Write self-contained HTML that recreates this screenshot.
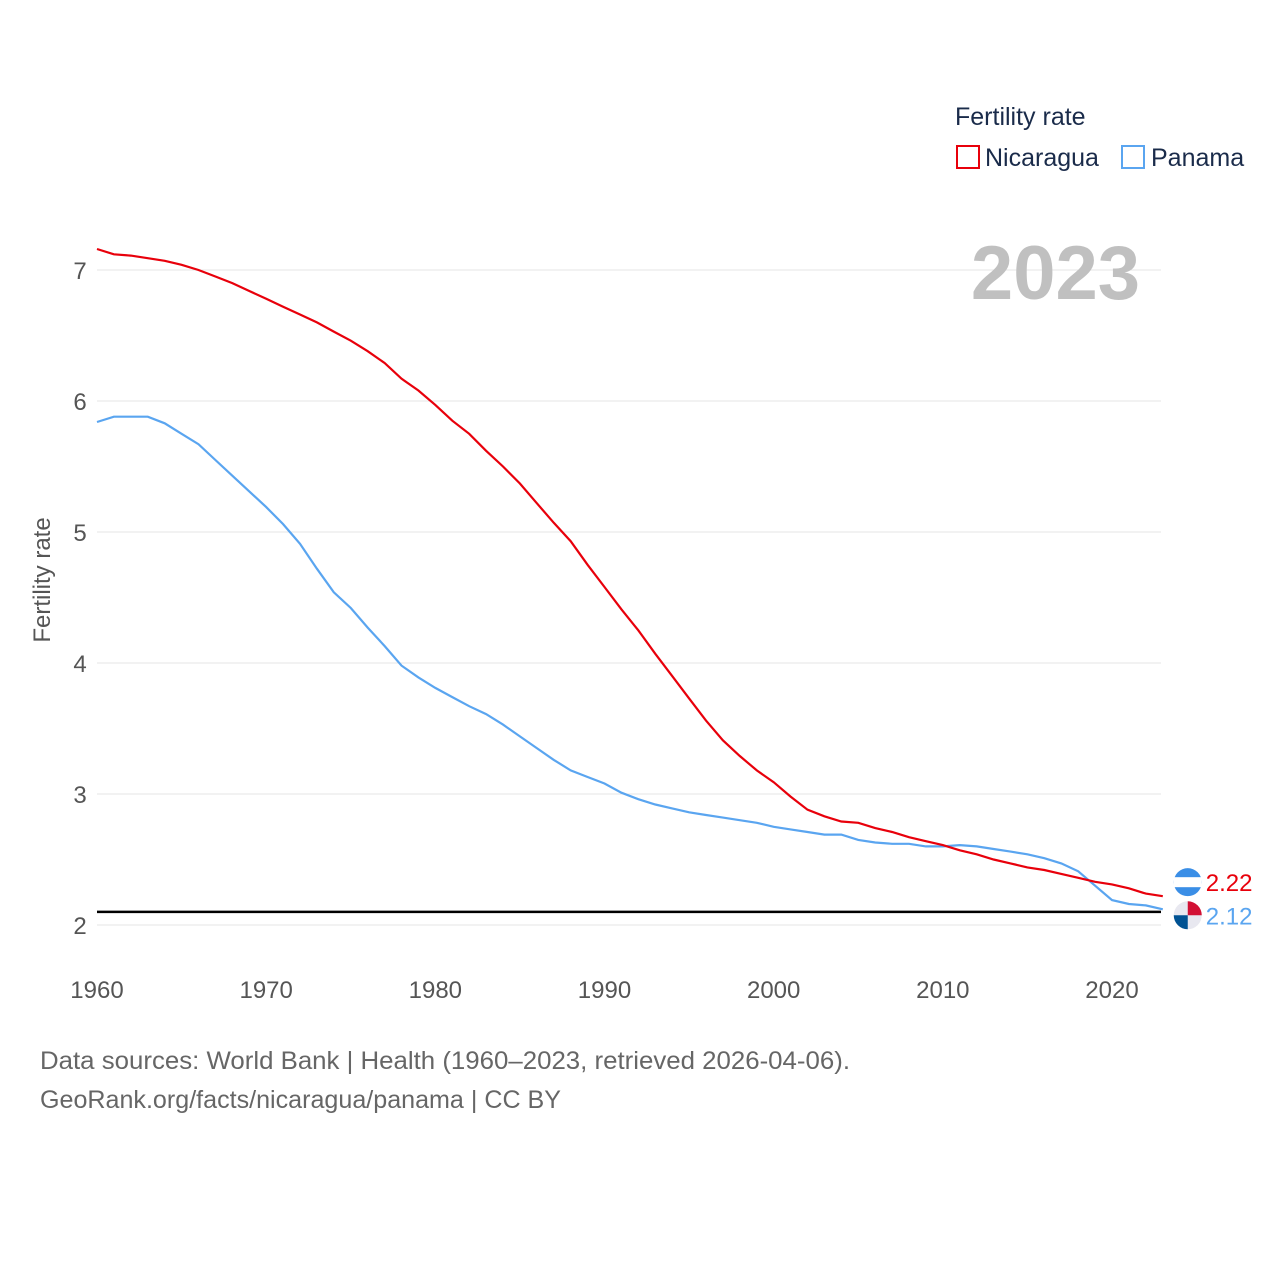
<!DOCTYPE html>
<html><head><meta charset="utf-8"><style>
body{margin:0;background:#fff;font-family:"Liberation Sans",sans-serif}
svg text{font-family:"Liberation Sans",sans-serif}
</style></head><body>
<svg id="chart" width="1280" height="1280" xmlns="http://www.w3.org/2000/svg">
<g id="grid"></g>
<g id="lines"></g>
<text x="1140" y="299" text-anchor="end" font-size="76" font-weight="bold" fill="#c0c0c0">2023</text>
<text x="955" y="125" font-size="25" fill="#1a2b4a">Fertility rate</text>
<g><rect x="957" y="146" width="22" height="22" fill="none" stroke="#e8000b" stroke-width="2"/><text x="985" y="166" font-size="25" fill="#1a2b4a">Nicaragua</text></g>
<g><rect x="1122" y="146" width="22" height="22" fill="none" stroke="#5aa5f0" stroke-width="2"/><text x="1151" y="166" font-size="25" fill="#1a2b4a">Panama</text></g>
<text transform="translate(50,580) rotate(-90)" text-anchor="middle" font-size="24" fill="#555">Fertility rate</text>
<text x="40" y="1069" font-size="25" fill="#666" textLength="810" lengthAdjust="spacingAndGlyphs">Data sources: World Bank | Health (1960–2023, retrieved 2026-04-06).</text>
<text x="40" y="1108" font-size="25" fill="#666" textLength="521" lengthAdjust="spacingAndGlyphs">GeoRank.org/facts/nicaragua/panama | CC BY</text>
</svg>
<script>
const years=[];for(let y=1960;y<=2023;y++)years.push(y);
const nicaragua=[7.16,7.12,7.11,7.09,7.07,7.04,7.00,6.95,6.90,6.84,6.78,6.72,6.66,6.60,6.53,6.46,6.38,6.29,6.17,6.08,5.97,5.85,5.75,5.62,5.50,5.37,5.22,5.07,4.93,4.75,4.58,4.41,4.25,4.07,3.90,3.73,3.56,3.41,3.29,3.18,3.09,2.98,2.88,2.83,2.79,2.78,2.74,2.71,2.67,2.64,2.61,2.57,2.54,2.50,2.47,2.44,2.42,2.39,2.36,2.33,2.31,2.28,2.24,2.22];
const panama=[5.84,5.88,5.88,5.88,5.83,5.75,5.67,5.55,5.43,5.31,5.19,5.06,4.91,4.72,4.54,4.42,4.27,4.13,3.98,3.89,3.81,3.74,3.67,3.61,3.53,3.44,3.35,3.26,3.18,3.13,3.08,3.01,2.96,2.92,2.89,2.86,2.84,2.82,2.80,2.78,2.75,2.73,2.71,2.69,2.69,2.65,2.63,2.62,2.62,2.60,2.60,2.61,2.60,2.58,2.56,2.54,2.51,2.47,2.41,2.30,2.19,2.16,2.15,2.12];
const yTicks=[2,3,4,5,6,7];
const xTicks=[1960,1970,1980,1990,2000,2010,2020];
const replacement=[2.1];
const NS="http://www.w3.org/2000/svg";
const xs=y=>97+(y-1960)*(1112-97)/60;
const ys=v=>925-(v-2)*131;
const grid=document.getElementById('grid'),lines=document.getElementById('lines');
function mk(t,a,p){const e=document.createElementNS(NS,t);for(const k in a)e.setAttribute(k,a[k]);p.appendChild(e);return e;}
yTicks.forEach(v=>{
 const l=mk('line',{x1:97,x2:1161,y1:ys(v),y2:ys(v),stroke:'#e6e6e6','stroke-width':1},grid);
 
 
 const t=mk('text',{x:80,y:ys(v)+9,'text-anchor':'middle','font-size':24,fill:'#555'},grid);t.textContent=v;
 
 
});
xTicks.forEach(v=>{
 const t=mk('text',{x:xs(v),y:998,'text-anchor':'middle','font-size':24,fill:'#555'},grid);t.textContent=v;
 
 
});
replacement.forEach(v=>{
 const l=mk('line',{x1:97,x2:1161,y1:ys(v),y2:ys(v),stroke:'#000','stroke-width':2.5},grid);
 
 
});
function series(d,c,name){
 const p=mk('path',{d:d.map((v,i)=>(i?'L':'M')+xs(years[i]).toFixed(1)+','+ys(v).toFixed(1)).join(''),fill:'none',stroke:c,'stroke-width':2.2},lines);
 
 
}
series(panama,'#5aa5f0','panama');
series(nicaragua,'#e8000b','nicaragua');
const lx=xs(2023);
[[nicaragua,'#e8000b','nicaragua',-11],[panama,'#5aa5f0','panama',9]].forEach(([d,c,n,off])=>{
 const v=d[d.length-1];const fy=ys(v)+off-3;
 const g=mk('g',{},lines);
 
 
 mk('circle',{cx:lx+25,cy:fy,r:14,fill:n==='nicaragua'?'#3a8ee6':'#e8e8f0'},g);
 if(n==='nicaragua')mk('rect',{x:lx+11,y:fy-5,width:28,height:10,fill:'#fff'},g);
 else{mk('path',{d:`M${lx+25},${fy-14}A14,14 0 0 1 ${lx+39},${fy}L${lx+25},${fy}Z`,fill:'#d21034'},g);mk('path',{d:`M${lx+25},${fy+14}A14,14 0 0 1 ${lx+11},${fy}L${lx+25},${fy}Z`,fill:'#005293'},g);}
 const t=mk('text',{x:lx+43,y:fy+9,'font-size':24,fill:c},g);t.textContent=v.toFixed(2);
});
</script>
</body></html>
